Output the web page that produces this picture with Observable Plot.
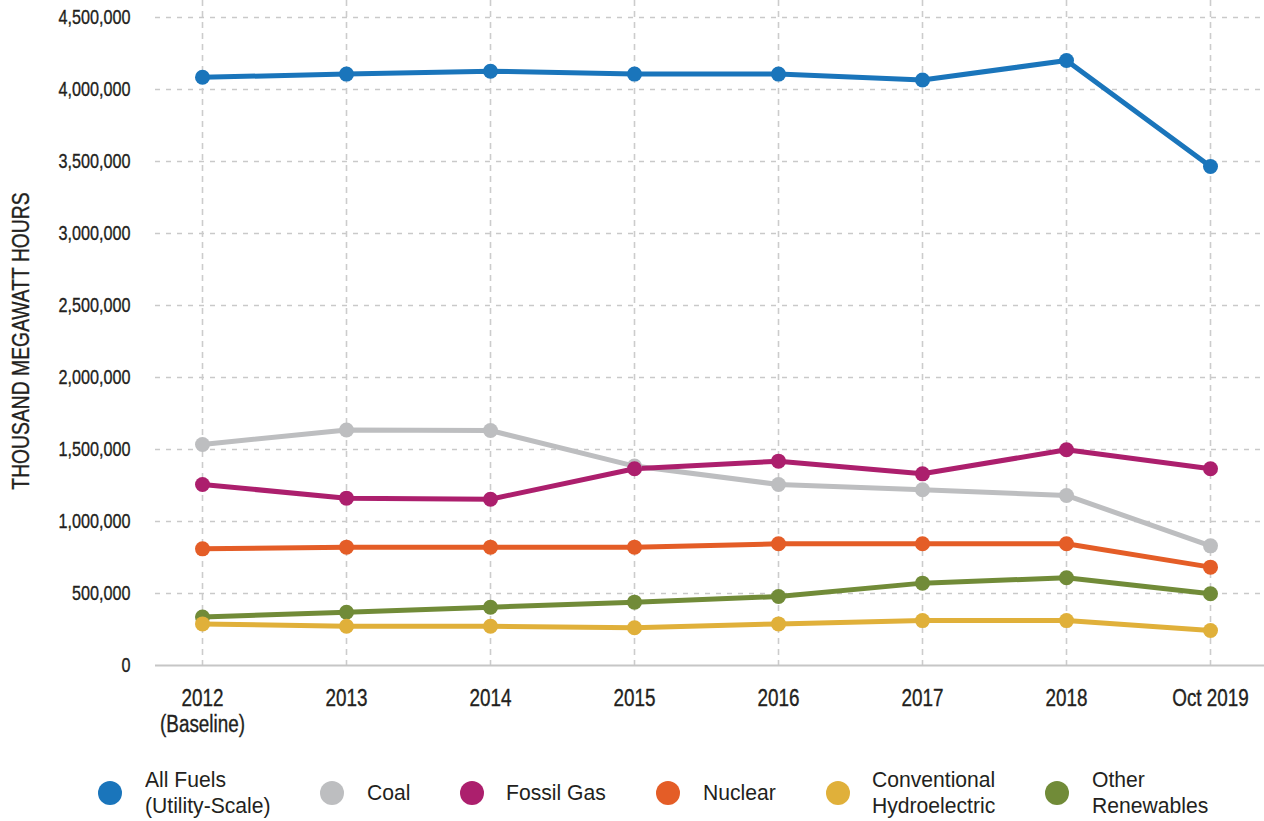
<!DOCTYPE html>
<html>
<head>
<meta charset="utf-8">
<script src="https://cdn.jsdelivr.net/npm/d3@7"></script>
<script src="https://cdn.jsdelivr.net/npm/@observablehq/plot@0.6"></script>
<style>
  html, body { margin: 0; padding: 0; background: #ffffff; }
  body { font-family: "Liberation Sans", Arial, sans-serif; color: #231f20; width: 1264px; }
  #chart svg { display: block; overflow: visible; }
  #chart svg text { stroke: #231f20; stroke-width: 0.35px; }
  #legend { display: flex; align-items: center; gap: 50px; padding-left: 98px; margin-top: 22px; font-size: 22px; line-height: 26px; }
  .item { display: flex; align-items: center; }
  .sw { width: 24px; height: 24px; border-radius: 50%; margin-right: 22.5px; flex: none; }
  .lbl { display: inline-block; white-space: nowrap; }
  .lbl > span { display: inline-block; transform-origin: 0 50%; }
</style>
</head>
<body>
<div id="chart"></div>
<div id="legend"></div>
<script>
// ---- data ----
const years = ["2012", "2013", "2014", "2015", "2016", "2017", "2018", "Oct 2019"];
const yearLabels = ["2012\n(Baseline)", "2013", "2014", "2015", "2016", "2017", "2018", "Oct 2019"];
const seriesNames = ["All Fuels (Utility-Scale)", "Coal", "Fossil Gas", "Nuclear", "Conventional Hydroelectric", "Other Renewables"];
const legendLabels = ["All Fuels\n(Utility-Scale)", "Coal", "Fossil Gas", "Nuclear", "Conventional\nHydroelectric", "Other\nRenewables"];
const seriesColors = ["#1a75bb", "#bdbec0", "#ac1f6d", "#e45d27", "#e0b03a", "#718b38"];

const allFuels   = [4085000, 4107000, 4127000, 4107000, 4107000, 4066000, 4201000, 3465000];
const coal       = [1535000, 1635000, 1632000, 1385000, 1257000, 1220000, 1181000, 831000];
const fossilGas  = [1257000, 1162000, 1155000, 1366000, 1419000, 1331000, 1498000, 1366000];
const nuclear    = [810000, 822000, 822000, 822000, 845000, 845000, 845000, 683000];
const hydro      = [289000, 273000, 273000, 262000, 289000, 312000, 312000, 243000];
const otherRenew = [336000, 370000, 405000, 440000, 479000, 572000, 609000, 498000];

const yTicks = [0, 500000, 1000000, 1500000, 2000000, 2500000, 3000000, 3500000, 4000000, 4500000];
const yTitle = "THOUSAND MEGAWATT HOURS";

// ---- build table ----
const valuesBySeries = [allFuels, coal, fossilGas, nuclear, hydro, otherRenew];
const drawOrder = [0, 1, 3, 5, 2, 4]; // gas above coal, hydro above renewables
const rows = [];
for (const s of drawOrder) {
  years.forEach((yr, i) => rows.push({series: seriesNames[s], year: yr, value: valuesBySeries[s][i]}));
}

const font = '"Liberation Sans", Arial, sans-serif';

const chart = Plot.plot({
  width: 1264,
  height: 745,
  marginTop: 0,
  insetTop: 17,
  marginLeft: 155,
  marginRight: 0,
  insetLeft: 47,
  insetRight: 54,
  marginBottom: 80,
  style: {fontFamily: font, fontSize: "20px", color: "#231f20", background: "#ffffff"},
  x: {type: "point", domain: years, padding: 0},
  y: {domain: [0, 4500000]},
  color: {domain: seriesNames, range: seriesColors},
  marks: [
    Plot.ruleY(yTicks.slice(1), {stroke: "#c9c9c9", strokeWidth: 1.6, strokeDasharray: "5,6"}),
    Plot.ruleX(years, {stroke: "#cccccc", strokeWidth: 1.6, strokeDasharray: "6,5"}),
    Plot.ruleY([0], {stroke: "#c6c6c6", strokeWidth: 2}),
    Plot.axisY({ticks: yTicks, tickSize: 0, tickPadding: 25, tickFormat: d3.format(","), fontSize: 20, label: null, className: "cy"}),
    Plot.axisX({tickSize: 0, tickPadding: 22, fontSize: 23, tickFormat: (d) => yearLabels[years.indexOf(d)], label: null, lineHeight: 1.13, className: "cx"}),
    Plot.text([yTitle], {frameAnchor: "left", dx: -134, rotate: -90, textAnchor: "middle", fontSize: 23, fill: "#231f20", text: (d) => d, dy: 8, className: "ct"}),
    Plot.line(rows, {x: "year", y: "value", z: "series", stroke: "series", strokeWidth: 5, strokeLinejoin: "round"}),
    Plot.dot(rows, {x: "year", y: "value", fill: "series", r: 7.5})
  ]
});
document.getElementById("chart").appendChild(chart);

// condense text horizontally (narrow typeface look) while keeping it real text
function condense(selector, f) {
  chart.querySelectorAll(selector).forEach((t) => {
    const spans = t.querySelectorAll("tspan");
    const targets = spans.length ? Array.from(spans) : [t];
    targets.forEach((el) => {
      const len = el.getComputedTextLength();
      if (len > 0) {
        el.setAttribute("textLength", (len * f).toFixed(2));
        el.setAttribute("lengthAdjust", "spacingAndGlyphs");
      }
    });
  });
}
condense(".cy text", 0.81);
condense(".cx text", 0.82);
condense(".ct text", 0.84);

// ---- HTML legend ----
const legend = document.getElementById("legend");
const legendScale = 0.96;
seriesNames.forEach((name, i) => {
  const item = document.createElement("div");
  item.className = "item";
  const sw = document.createElement("span");
  sw.className = "sw";
  sw.style.background = seriesColors[i];
  const label = document.createElement("span");
  label.className = "lbl";
  const inner = document.createElement("span");
  inner.innerHTML = legendLabels[i].split("\n").join("<br>");
  label.appendChild(inner);
  item.appendChild(sw);
  item.appendChild(label);
  legend.appendChild(item);
});
legend.querySelectorAll(".lbl").forEach((lbl) => {
  const inner = lbl.firstChild;
  const w = inner.getBoundingClientRect().width;
  lbl.style.width = (w * legendScale).toFixed(2) + "px";
  inner.style.transform = `scaleX(${legendScale})`;
});
</script>
</body>
</html>
